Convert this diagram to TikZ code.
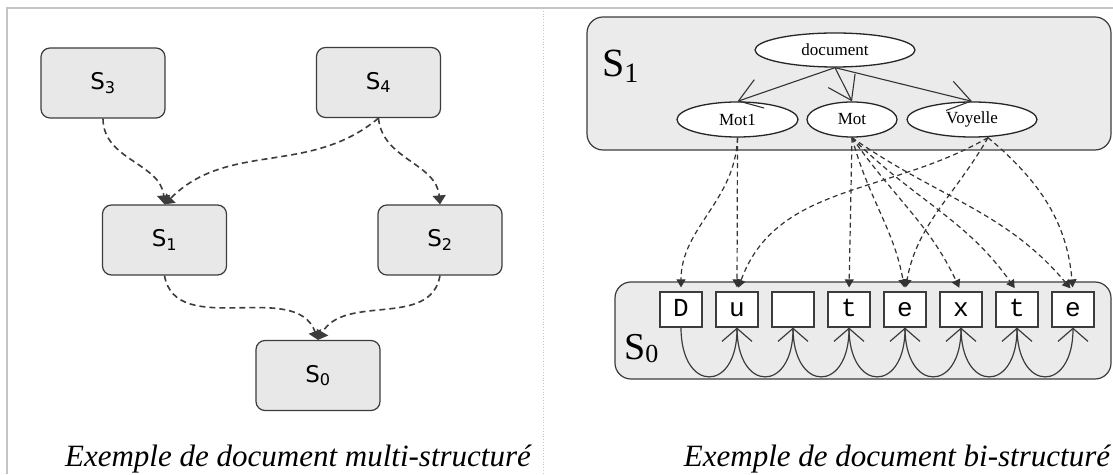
\documentclass[tikz,border=0pt]{standalone}
\usepackage{fontspec}
\setmainfont{Liberation Serif}
\newfontfamily\sansnodefont{DejaVu Sans}
\newfontfamily\chrfont{Liberation Mono}
\usetikzlibrary{arrows.meta,shapes.geometric}
\definecolor{boxfill}{HTML}{E8E8E8}
\definecolor{panelfill}{HTML}{EBEBEB}
\definecolor{edgecol}{HTML}{3C3C3C}
\definecolor{framegray}{HTML}{C4C4C4}
\begin{document}
\begin{tikzpicture}[x=1pt,y=1pt,
  sbox/.style={draw=edgecol, fill=boxfill, rounded corners=9pt, line width=1.2pt,
    minimum width=124pt, minimum height=70pt, inner sep=0pt,
    font=\sansnodefont\fontsize{23}{25}\selectfont},
  ldash/.style={draw=edgecol, line width=1.6pt, dash pattern=on 6pt off 4pt,
    -{Triangle[length=9pt,width=13pt]}},
  panel/.style={draw=edgecol, fill=panelfill, rounded corners=16pt, line width=1.2pt, inner sep=0pt},
  ell/.style={ellipse, draw=black!85, fill=white, line width=1.3pt, inner sep=0pt,
    font=\fontsize{17}{18}\selectfont},
  treearrow/.style={draw=black!80, line width=1.1pt, -{Straight Barb[length=22pt,width=30pt]}},
  chr/.style={draw=edgecol, fill=white, line width=1.2pt, minimum width=42pt, minimum height=35pt,
    inner sep=0pt, text height=14pt, text depth=0pt, font=\chrfont\fontsize{26}{26}\selectfont},
  rdash/.style={draw=black!80, line width=1.2pt, dash pattern=on 5pt off 3.5pt,
    -{Triangle[length=8pt,width=9pt]}, shorten >=4pt},
  loopar/.style={draw=edgecol, line width=1.2pt, -{Straight Barb[length=13pt,width=30pt]}},
  caption/.style={anchor=base, inner sep=0pt, font=\itshape\fontsize{31}{31}\selectfont}
]
\fill[white] (0,0) rectangle (1113,474);
\useasboundingbox (0,0) rectangle (1113,474);

% frame
\draw[framegray, line width=1.6pt] (7,0) -- (7,466) -- (1113,466);
\draw[framegray, line width=0.8pt, dotted] (543,466) -- (543,0);

% left panel
\node[sbox] (s3) at (103,391) {S\textsubscript{3}};
\node[sbox] (s4) at (378.5,391.5) {S\textsubscript{4}};
\node[sbox] (s1) at (164.5,234) {S\textsubscript{1}};
\node[sbox] (s2) at (440,234) {S\textsubscript{2}};
\node[sbox] (s0) at (318,98.5) {S\textsubscript{0}};

\draw[ldash] (s3.south) to[out=-90,in=95] (s1.north);
\draw[ldash] (s4.south) to[out=-140,in=45] (s1.north);
\draw[ldash] (s4.south) to[out=-85,in=95] (s2.north);
\draw[ldash] (s1.south) to[out=-80,in=110] (s0.north);
\draw[ldash] (s2.south) to[out=-100,in=60] (s0.north);

\node[caption] (cap1) at (298,8) {Exemple de document multi-structuré};

% right panel
\node[panel, minimum width=524pt, minimum height=133pt] (p1) at (849,390.5) {};
\node[panel, minimum width=496pt, minimum height=97pt] (p0) at (863,143.5) {};

\node[anchor=base west, inner sep=0pt] (l1) at (602,397)
  {\fontsize{40}{40}\selectfont S\raisebox{-6pt}{\fontsize{28}{28}\selectfont 1}};
\node[anchor=base west, inner sep=0pt] (l0) at (624,114)
  {\fontsize{38}{38}\selectfont S\raisebox{-3pt}{\fontsize{26}{26}\selectfont 0}};

\node[ell, minimum width=160pt, minimum height=34pt] (doc) at (835,424) {document};
\node[ell, minimum width=121pt, minimum height=35pt] (mot1) at (737.5,354.5) {Mot1};
\node[ell, minimum width=90pt, minimum height=35pt] (mot) at (852,354.5) {Mot};
\node[ell, minimum width=130pt, minimum height=35pt] (voy) at (972,354.5) {Voyelle};

\draw[treearrow] (doc.south) -- (mot1.north);
\draw[treearrow] (doc.south) -- (mot.north);
\draw[treearrow] (doc.south) -- (voy.north);

\node[chr] (c1) at (681,164.5) {D};
\node[chr] (c2) at (737,164.5) {u};
\node[chr] (c3) at (793,164.5) {};
\node[chr] (c4) at (849,164.5) {t};
\node[chr] (c5) at (905,164.5) {e};
\node[chr] (c6) at (961,164.5) {x};
\node[chr] (c7) at (1017,164.5) {t};
\node[chr] (c8) at (1073,164.5) {e};

\draw[loopar] (c1.south) to[out=-90,in=-90,looseness=3] (c2.south);
\draw[loopar] (c2.south) to[out=-90,in=-90,looseness=3] (c3.south);
\draw[loopar] (c3.south) to[out=-90,in=-90,looseness=3] (c4.south);
\draw[loopar] (c4.south) to[out=-90,in=-90,looseness=3] (c5.south);
\draw[loopar] (c5.south) to[out=-90,in=-90,looseness=3] (c6.south);
\draw[loopar] (c6.south) to[out=-90,in=-90,looseness=3] (c7.south);
\draw[loopar] (c7.south) to[out=-90,in=-90,looseness=3] (c8.south);

\coordinate (vb) at ([xshift=16pt]voy.south);
\draw[rdash] (mot1.south) to[out=-92,in=90] (c1.north);
\draw[rdash] (mot1.south) -- (c2.north);
\draw[rdash] (mot.south) -- (c4.north);
\draw[rdash] (mot.south) to[out=-75,in=100] (c5.north);
\draw[rdash] (mot.south) to[out=-55,in=115] (c6.north);
\draw[rdash] (mot.south) to[out=-45,in=125] (c7.north);
\draw[rdash] (mot.south) to[out=-35,in=130] (c8.north);
\draw[rdash] (vb) to[out=-150,in=70] (c2.north);
\draw[rdash] (vb) to[out=-120,in=80] (c5.north);
\draw[rdash] (vb) to[out=-40,in=95] (c8.north);

\node[caption] (cap2) at (897,8) {Exemple de document bi-structuré};
\end{tikzpicture}
\end{document}
